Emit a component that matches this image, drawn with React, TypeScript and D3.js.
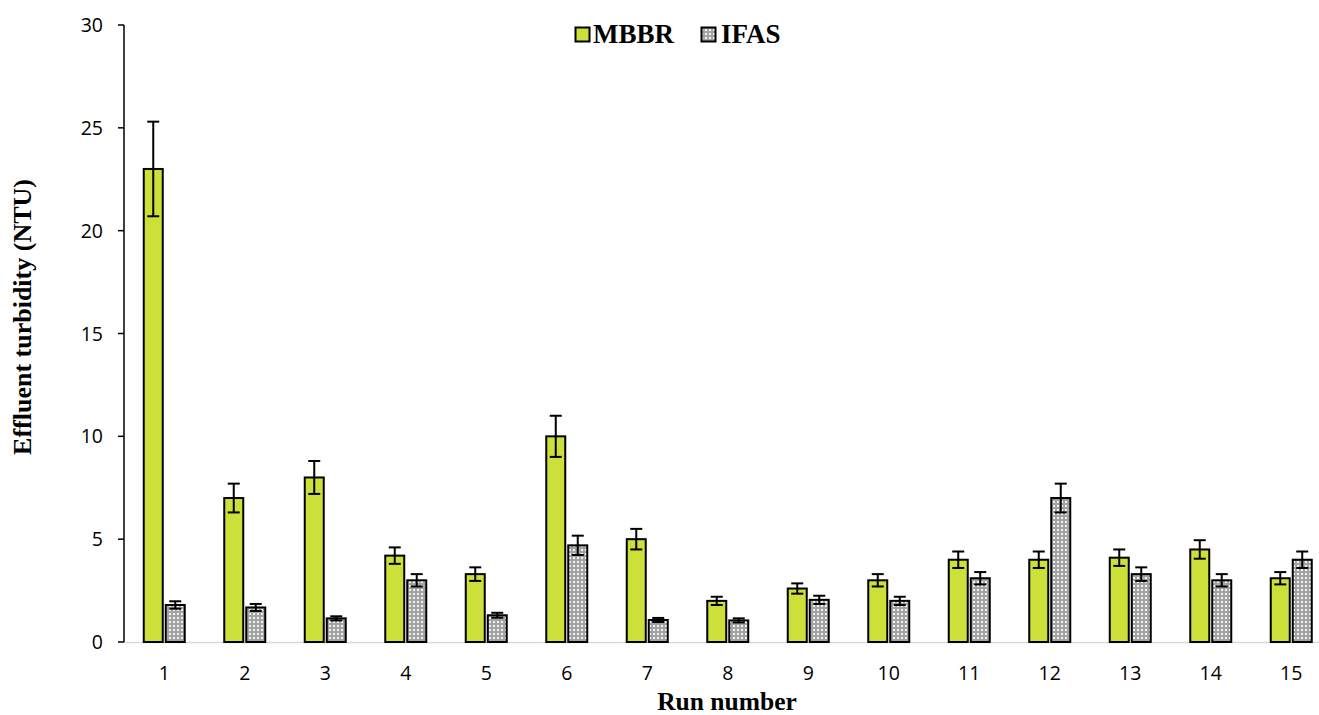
import React from "react";
import * as d3 from "d3";

const runs = ["1", "2", "3", "4", "5", "6", "7", "8", "9", "10", "11", "12", "13", "14", "15"];
const mbbr = [23, 7, 8, 4.2, 3.3, 10, 5, 2, 2.6, 3, 4, 4, 4.1, 4.5, 3.1];
const mbbrErr = [2.3, 0.7, 0.8, 0.4, 0.33, 1, 0.5, 0.2, 0.25, 0.3, 0.4, 0.4, 0.4, 0.45, 0.3];
const ifas = [1.8, 1.68, 1.15, 3, 1.3, 4.7, 1.07, 1.05, 2.05, 2, 3.1, 7, 3.3, 3, 4];
const ifasErr = [0.18, 0.17, 0.1, 0.3, 0.12, 0.47, 0.1, 0.1, 0.2, 0.2, 0.3, 0.7, 0.33, 0.3, 0.4];
const yTicks = [0, 5, 10, 15, 20, 25, 30];
const seriesNames = ["MBBR", "IFAS"];

const W = 1319;
const H = 715;
const left = 124;
const top = 25;
const bottom = 642;
const right = left + 80.5 * 15;

export default function App() {
  const x = d3.scaleBand<string>().domain(runs).range([left, right]);
  const y = d3.scaleLinear().domain([0, 30]).range([bottom, top]);
  const barW = 19;
  const gap = 3;
  const green = "#cde03a";
  const series = [
    { name: seriesNames[0], values: mbbr, err: mbbrErr, fill: green, offset: -gap / 2 - barW },
    { name: seriesNames[1], values: ifas, err: ifasErr, fill: "url(#dots)", offset: gap / 2 },
  ];
  const serif = "'Liberation Serif', 'Times New Roman', serif";
  const sans = "'Open Sans', 'Noto Sans', sans-serif";

  return (
    <svg width={W} height={H} style={{ position: "absolute", left: 0, top: 0, background: "#fff" }}>
      <defs>
        <pattern id="dots" width={4} height={4} patternUnits="userSpaceOnUse">
          <rect width={4} height={4} fill="#a3a3a3" />
          <rect x={1} y={1} width={2} height={2} fill="#f2f2f2" />
        </pattern>
      </defs>

      {/* x baseline */}
      <line x1={left} x2={W} y1={bottom + 0.5} y2={bottom + 0.5} stroke="#d9d9d9" strokeWidth={1.5} />

      {/* y axis */}
      <line x1={left} x2={left} y1={top} y2={bottom} stroke="#000" strokeWidth={1.5} />
      {yTicks.map((t) => (
        <g key={t}>
          <line x1={left - 6} x2={left} y1={y(t)} y2={y(t)} stroke="#000" strokeWidth={1.5} />
          <text x={103} y={y(t)} dy="0.36em" textAnchor="end" fontFamily={sans} fontSize={19.5} fill="#000">
            {t}
          </text>
        </g>
      ))}

      {/* bars with error bars */}
      {series.map((s) =>
        runs.map((r, i) => {
          const cx = (x(r) as number) + x.bandwidth() / 2;
          const bx = cx + s.offset;
          const v = s.values[i];
          const e = s.err[i];
          const mid = bx + barW / 2;
          return (
            <g key={s.name + r}>
              <rect x={bx} y={y(v)} width={barW} height={bottom - y(v)} fill={s.fill} stroke="#000" strokeWidth={2} />
              <line x1={mid} x2={mid} y1={y(v + e)} y2={y(v - e)} stroke="#000" strokeWidth={2} />
              <line x1={mid - 6} x2={mid + 6} y1={y(v + e)} y2={y(v + e)} stroke="#000" strokeWidth={2} />
              <line x1={mid - 6} x2={mid + 6} y1={y(v - e)} y2={y(v - e)} stroke="#000" strokeWidth={2} />
            </g>
          );
        })
      )}

      {/* x tick labels */}
      {runs.map((r) => (
        <text
          key={r}
          x={(x(r) as number) + x.bandwidth() / 2}
          y={680}
          textAnchor="middle"
          fontFamily={sans}
          fontSize={19.5}
          fill="#000"
        >
          {r}
        </text>
      ))}

      {/* legend */}
      <g>
        <rect x={575.5} y={27.5} width={14} height={14} fill={green} stroke="#000" strokeWidth={2} />
        <text x={593} y={43} fontFamily={serif} fontWeight="bold" fontSize={27} fill="#000">
          {seriesNames[0]}
        </text>
        <rect x={701.5} y={27.5} width={14} height={14} fill="url(#dots)" stroke="#000" strokeWidth={2} />
        <text x={721} y={43} fontFamily={serif} fontWeight="bold" fontSize={27} fill="#000">
          {seriesNames[1]}
        </text>
      </g>

      {/* axis titles */}
      <text x={727} y={710} textAnchor="middle" fontFamily={serif} fontWeight="bold" fontSize={25.5} fill="#000">
        Run number
      </text>
      <text
        transform={`translate(31, 317) rotate(-90)`}
        textAnchor="middle"
        fontFamily={serif}
        fontWeight="bold"
        fontSize={26}
        fill="#000"
      >
        Effluent turbidity (NTU)
      </text>
    </svg>
  );
}
